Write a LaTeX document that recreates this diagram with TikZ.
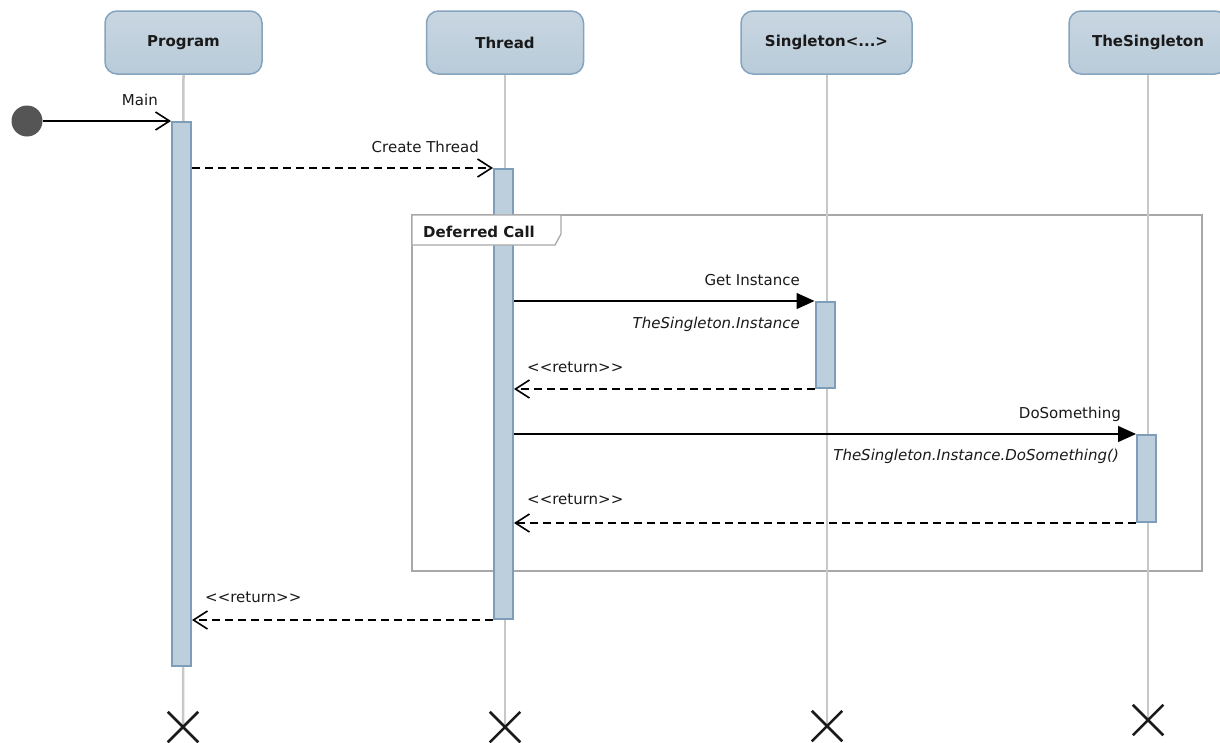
\documentclass[tikz,border=0pt]{standalone}
\usepackage{fontspec}
\setmainfont{DejaVu Sans}
\usetikzlibrary{arrows.meta,shapes.misc}
\definecolor{headline}{HTML}{86A4BE}
\definecolor{headtop}{HTML}{C8D6E1}
\definecolor{headbot}{HTML}{B9CBD9}
\definecolor{actline}{HTML}{7E9DB9}
\definecolor{actfill}{HTML}{BDCEDC}
\definecolor{lifegray}{HTML}{C8C8C8}
\definecolor{framegray}{HTML}{A8A8A8}
\definecolor{txt}{HTML}{1A1A1A}
\definecolor{dotgray}{HTML}{555555}
\tikzset{
  head/.style={draw=headline, line width=1.5pt, rounded corners=12pt, top color=headtop, bottom color=headbot,
    minimum width=157pt, minimum height=63pt, inner sep=0pt, font=\fontsize{15}{18}\selectfont\bfseries, text=txt},
  act/.style={draw=actline, line width=2pt, fill=actfill, minimum width=19pt, inner sep=0pt, anchor=north},
  lifeline/.style={draw=lifegray, line width=2.5pt},
  endx/.style={cross out, draw=txt, line width=2.5pt, minimum size=28pt, inner sep=0pt},
  call/.style={draw=black, line width=1.4pt, -{Triangle[length=18pt,width=16pt]}},
  async/.style={draw=black, line width=1.4pt, -{Straight Barb[length=14pt,width=18pt,line width=1.6pt]}},
  ret/.style={async, dash pattern=on 8pt off 5pt},
  lbl/.style={font=\fontsize{15}{18}\selectfont, text=txt, inner sep=0pt},
  ilbl/.style={lbl, font=\fontsize{15}{18}\selectfont\itshape},
  framebox/.style={draw=framegray, line width=1.3pt},
}
\begin{document}
\begin{tikzpicture}[x=1pt,y=-1pt]
\useasboundingbox[fill=white] (0,0) rectangle (1220,742);

% combined fragment
\draw[framebox] (412,215) rectangle (1202,571);

% heads
\node[head] (program) at (183.5,42.5) {Program};
\node[head] (thread) at (505,42.5) {Thread};
\node[head, minimum width=171pt] (singleton) at (826.5,42.5) {Singleton<...>};
\node[head, minimum width=158pt] (thesingleton) at (1148,42.5) {TheSingleton};

% end crosses (positions)
\coordinate (pX) at (183,727);
\coordinate (tX) at (505,727);
\coordinate (sX) at (827,726);
\coordinate (tsX) at (1148,720);

% lifelines
\draw[lifeline] (program.south) -- (pX);
\draw[lifeline] (thread.south) -- (tX);
\draw[lifeline] (singleton.south -| sX) -- (sX);
\draw[lifeline] (thesingleton.south) -- (tsX);

\node[endx] (pend) at (pX) {};
\node[endx] (tend) at (tX) {};
\node[endx] (send) at (sX) {};
\node[endx] (tsend) at (tsX) {};

% activations
\node[act, minimum height=544pt] (pact) at (181.5,121) {};
\node[act, minimum height=450pt] (tact) at (503.5,168) {};
\node[act, minimum height=86pt] (sact) at (825,301) {};
\node[act, minimum height=87pt] (tsact) at (1146.5,434) {};

% fragment tab (over the activation)
\draw[framebox, fill=white] (412,215) -- (561,215) -- (561,234) -- (555,245) -- (412,245) -- cycle;
\node[lbl, font=\fontsize{15}{18}\selectfont\bfseries, anchor=base west] (fraglbl) at (423,237) {Deferred Call};

% start
\node[circle, fill=dotgray, minimum size=31pt, inner sep=0pt] (start) at (27,121) {};

% messages
\draw[async] (start.east) -- (pact.north west);
\node[lbl, anchor=base east] (mainlbl) at (158,105) {Main};

\draw[ret] (pact.east |- tact.north) -- (tact.north west);
\node[lbl, anchor=base east] (ctlbl) at (479,152) {Create Thread};

\draw[call] (tact.east |- sact.north) -- (sact.north west);
\node[lbl, anchor=base east] (gilbl) at (800,285) {Get Instance};
\node[ilbl, anchor=base east] (gicode) at (800,328) {TheSingleton.Instance};

\draw[ret] (sact.south west) -- (tact.east |- sact.south);
\node[lbl, anchor=base west] (ret1) at (527,372) {<{}<return>{}>};

\draw[call] (tact.east |- tsact.north) -- (tsact.north west);
\node[lbl, anchor=base east] (dslbl) at (1121,418) {DoSomething};
\node[ilbl, anchor=base east] (dscode) at (1119,460) {TheSingleton.Instance.DoSomething()};

\draw[ret] (tsact.south west) -- (tact.east |- tsact.south);
\node[lbl, anchor=base west] (ret2) at (527,504) {<{}<return>{}>};

\draw[ret] (tact.south west) -- (pact.east |- tact.south);
\node[lbl, anchor=base west] (ret3) at (205,602) {<{}<return>{}>};
\end{tikzpicture}
\end{document}
